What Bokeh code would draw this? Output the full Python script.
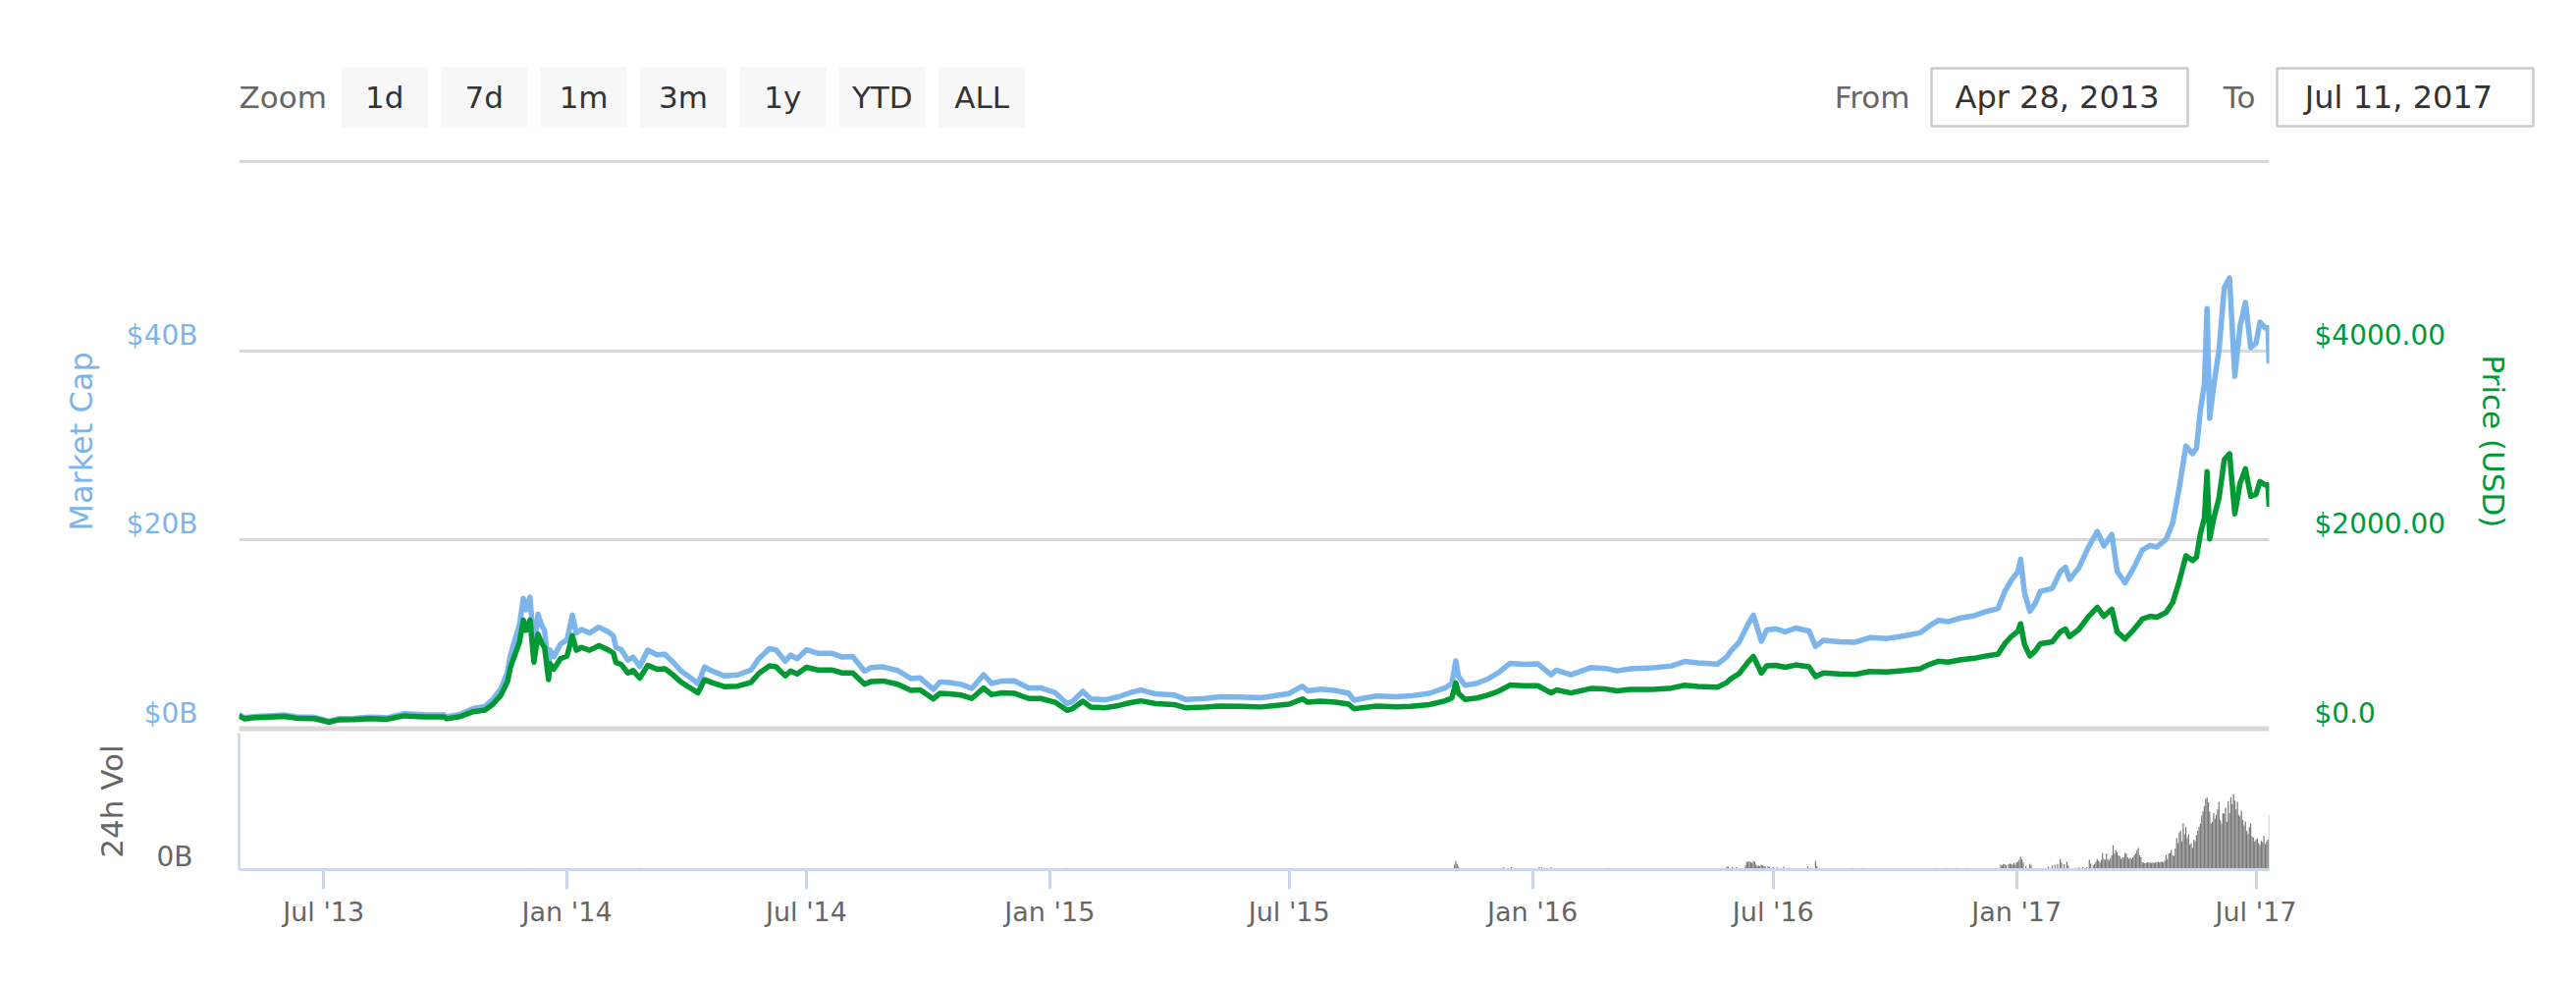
from datetime import datetime
from bokeh.plotting import figure
from bokeh.models import Range1d, LinearAxis, FixedTicker, Span, DatetimeTickFormatter
from bokeh.layouts import column
from bokeh.embed import file_html
from bokeh.resources import INLINE
from bokeh.core.properties import value

FONT = "DejaVu Sans"

# ---------------- data ----------------
dates = [
    "2013-04-28", "2013-05-02", "2013-05-10", "2013-05-20", "2013-06-01", "2013-06-12", "2013-06-24",
    "2013-07-05", "2013-07-12", "2013-07-24", "2013-08-05", "2013-08-18", "2013-08-31", "2013-09-15",
    "2013-09-30", "2013-10-02", "2013-10-12", "2013-10-22", "2013-10-31", "2013-11-06", "2013-11-12",
    "2013-11-17", "2013-11-19", "2013-11-22", "2013-11-26", "2013-11-29", "2013-12-01", "2013-12-04",
    "2013-12-07", "2013-12-10", "2013-12-13", "2013-12-15", "2013-12-18", "2013-12-19", "2013-12-22",
    "2013-12-27", "2014-01-01", "2014-01-05", "2014-01-08", "2014-01-12", "2014-01-18", "2014-01-25",
    "2014-02-01", "2014-02-05", "2014-02-07", "2014-02-11", "2014-02-16", "2014-02-20", "2014-02-25",
    "2014-03-03", "2014-03-10", "2014-03-16", "2014-03-22", "2014-03-28", "2014-04-02", "2014-04-10",
    "2014-04-15", "2014-04-20", "2014-04-30", "2014-05-10", "2014-05-20", "2014-05-26", "2014-06-03",
    "2014-06-08", "2014-06-15", "2014-06-19", "2014-06-24", "2014-07-01", "2014-07-10", "2014-07-20",
    "2014-07-28", "2014-08-05", "2014-08-14", "2014-08-19", "2014-08-28", "2014-09-08", "2014-09-18",
    "2014-09-25", "2014-10-05", "2014-10-10", "2014-10-17", "2014-10-26", "2014-11-03", "2014-11-12",
    "2014-11-18", "2014-11-26", "2014-12-05", "2014-12-16", "2014-12-25", "2015-01-05", "2015-01-14",
    "2015-01-18", "2015-01-26", "2015-02-01", "2015-02-12", "2015-02-22", "2015-03-03", "2015-03-11",
    "2015-03-22", "2015-04-05", "2015-04-14", "2015-04-28", "2015-05-10", "2015-05-25", "2015-06-10",
    "2015-06-20", "2015-07-01", "2015-07-11", "2015-07-15", "2015-07-25", "2015-08-05", "2015-08-15",
    "2015-08-19", "2015-08-25", "2015-09-05", "2015-09-20", "2015-10-01", "2015-10-15", "2015-10-27",
    "2015-11-01", "2015-11-04", "2015-11-06", "2015-11-11", "2015-11-20", "2015-11-28", "2015-12-06",
    "2015-12-15", "2015-12-25", "2016-01-05", "2016-01-15", "2016-01-19", "2016-01-30", "2016-02-14",
    "2016-02-25", "2016-03-05", "2016-03-15", "2016-04-01", "2016-04-15", "2016-04-25", "2016-05-05",
    "2016-05-20", "2016-05-27", "2016-05-30", "2016-06-05", "2016-06-12", "2016-06-16", "2016-06-22",
    "2016-06-26", "2016-07-03", "2016-07-10", "2016-07-18", "2016-07-28", "2016-08-02", "2016-08-08",
    "2016-08-20", "2016-09-01", "2016-09-12", "2016-09-25", "2016-10-08", "2016-10-20", "2016-10-27",
    "2016-11-03", "2016-11-10", "2016-11-20", "2016-11-30", "2016-12-09", "2016-12-18", "2016-12-23",
    "2016-12-28", "2017-01-02", "2017-01-04", "2017-01-07", "2017-01-11", "2017-01-15", "2017-01-19",
    "2017-01-28", "2017-02-03", "2017-02-07", "2017-02-10", "2017-02-17", "2017-02-24", "2017-03-03",
    "2017-03-08", "2017-03-14", "2017-03-18", "2017-03-24", "2017-03-31", "2017-04-06", "2017-04-12",
    "2017-04-17", "2017-04-24", "2017-04-29", "2017-05-04", "2017-05-09", "2017-05-14", "2017-05-17",
    "2017-05-20", "2017-05-23", "2017-05-25", "2017-05-27", "2017-05-30", "2017-06-03", "2017-06-07",
    "2017-06-11", "2017-06-15", "2017-06-19", "2017-06-23", "2017-06-27", "2017-07-01", "2017-07-04",
    "2017-07-08", "2017-07-10", "2017-07-11",
]

price_usd = [
    135, 105, 117, 122, 129, 108, 107,
    70, 93, 95, 106, 100, 136, 125,
    124, 105, 127, 180, 198, 260, 355,
    500, 640, 760, 915, 1150, 1040, 1150,
    705, 1000, 900, 860, 520, 690, 630,
    740, 770, 985, 830, 860, 830, 880,
    835, 800, 700, 680, 590, 615, 535,
    670, 630, 635, 570, 495, 450, 380,
    520, 490, 445, 450, 490, 585, 665,
    655, 560, 610, 580, 650, 620, 622,
    590, 590, 470, 500, 505, 470, 405,
    410, 315, 375, 370, 355, 320, 430,
    360, 380, 375, 320, 320, 280, 195,
    210, 290, 228, 222, 245, 275, 295,
    265, 255, 220, 228, 240, 237, 230,
    245, 260, 315, 280, 292, 280, 260,
    210, 222, 238, 232, 237, 255, 295,
    325, 485, 375, 310, 325, 355, 395,
    462, 455, 455, 378, 410, 378, 425,
    420, 400, 415, 417, 430, 460, 448,
    440, 490, 530, 580, 705, 765, 590,
    665, 670, 650, 675, 655, 550, 590,
    580, 575, 605, 600, 615, 635, 680,
    715, 705, 730, 745, 770, 790, 900,
    975, 1030, 1110, 890, 770, 820, 900,
    920, 1025, 1055, 975, 1050, 1180, 1285,
    1190, 1265, 1025, 950, 1055, 1160, 1190,
    1180, 1230, 1335, 1560, 1830, 1780, 1815,
    2065, 2230, 2720, 2010, 2220, 2440, 2845,
    2910, 2275, 2600, 2750, 2460, 2480, 2615,
    2580, 2580, 2350,
]

market_cap_b = [
    1.50, 1.17, 1.30, 1.36, 1.46, 1.22, 1.21,
    0.80, 1.06, 1.09, 1.23, 1.16, 1.58, 1.47,
    1.46, 1.24, 1.50, 2.13, 2.35, 3.12, 4.26,
    6.00, 7.68, 9.12, 10.98, 13.80, 12.58, 13.92,
    8.53, 12.10, 10.89, 10.41, 6.29, 8.35, 7.62,
    8.95, 9.39, 12.02, 10.13, 10.49, 10.13, 10.74,
    10.27, 9.84, 8.61, 8.36, 7.26, 7.56, 6.58,
    8.31, 7.81, 7.87, 7.07, 6.14, 5.65, 4.77,
    6.53, 6.15, 5.58, 5.69, 6.20, 7.40, 8.48,
    8.35, 7.14, 7.78, 7.40, 8.35, 7.97, 7.99,
    7.58, 7.64, 6.09, 6.48, 6.54, 6.16, 5.31,
    5.37, 4.16, 4.95, 4.88, 4.69, 4.26, 5.72,
    4.79, 5.05, 5.06, 4.32, 4.32, 3.82, 2.66,
    2.87, 3.96, 3.15, 3.06, 3.38, 3.82, 4.10,
    3.68, 3.57, 3.08, 3.19, 3.38, 3.34, 3.27,
    3.48, 3.72, 4.50, 4.00, 4.18, 4.03, 3.74,
    3.02, 3.20, 3.46, 3.38, 3.47, 3.74, 4.32,
    4.81, 7.18, 5.55, 4.59, 4.81, 5.25, 5.91,
    6.91, 6.80, 6.87, 5.71, 6.19, 5.71, 6.46,
    6.38, 6.12, 6.35, 6.44, 6.64, 7.11, 6.97,
    6.84, 7.62, 8.24, 9.11, 11.07, 12.01, 9.26,
    10.44, 10.57, 10.26, 10.65, 10.34, 8.72, 9.35,
    9.19, 9.15, 9.63, 9.55, 9.83, 10.15, 10.87,
    11.48, 11.32, 11.72, 11.96, 12.40, 12.72, 14.49,
    15.70, 16.63, 17.93, 14.37, 12.44, 13.24, 14.54,
    14.86, 16.61, 17.09, 15.80, 17.01, 19.12, 20.88,
    19.34, 20.56, 16.66, 15.44, 17.14, 18.91, 19.40,
    19.23, 20.05, 21.76, 25.51, 29.92, 29.10, 29.68,
    33.76, 36.46, 44.47, 32.86, 36.30, 40.02, 46.66,
    47.72, 37.31, 42.64, 45.10, 40.34, 40.80, 43.02,
    42.44, 42.44, 38.66,
]

vol_dates = [
    "2013-12-05", "2013-12-18", "2014-01-06", "2014-02-07", "2014-02-25", "2014-04-11", "2014-06-05",
    "2014-08-18", "2014-10-05", "2014-11-12", "2015-01-14", "2015-01-26", "2015-07-11", "2015-08-19",
    "2015-11-03", "2015-11-04", "2015-11-05", "2015-11-06", "2015-12-10", "2015-12-16", "2016-01-06",
    "2016-01-08", "2016-01-15", "2016-02-27", "2016-05-27", "2016-05-28", "2016-05-31", "2016-06-03",
    "2016-06-10", "2016-06-11", "2016-06-12", "2016-06-13", "2016-06-14", "2016-06-15", "2016-06-16",
    "2016-06-17", "2016-06-18", "2016-06-19", "2016-06-20", "2016-06-21", "2016-06-22", "2016-06-23",
    "2016-06-24", "2016-06-25", "2016-06-27", "2016-06-28", "2016-07-01", "2016-07-04", "2016-07-09",
    "2016-07-13", "2016-07-27", "2016-08-02", "2016-08-03", "2016-08-30", "2016-09-07", "2016-11-01",
    "2016-11-09", "2016-11-16", "2016-11-24",
    "2016-12-20", "2016-12-21", "2016-12-22", "2016-12-23", "2016-12-24", "2016-12-26", "2016-12-27",
    "2016-12-28", "2016-12-29", "2016-12-30", "2016-12-31", "2017-01-01", "2017-01-02", "2017-01-03",
    "2017-01-04", "2017-01-05", "2017-01-06", "2017-01-08", "2017-01-11", "2017-01-12", "2017-01-25",
    "2017-01-28", "2017-01-30", "2017-02-01", "2017-02-03", "2017-02-04", "2017-02-06", "2017-02-08",
    "2017-02-09", "2017-02-14", "2017-02-17", "2017-02-20", "2017-02-23", "2017-02-25", "2017-02-26",
    "2017-02-28", "2017-03-01", "2017-03-02", "2017-03-03", "2017-03-04", "2017-03-05", "2017-03-06",
    "2017-03-07", "2017-03-08", "2017-03-09", "2017-03-10", "2017-03-11", "2017-03-12", "2017-03-13",
    "2017-03-14", "2017-03-15", "2017-03-16", "2017-03-17", "2017-03-18", "2017-03-19", "2017-03-20",
    "2017-03-21", "2017-03-22", "2017-03-23", "2017-03-24", "2017-03-25", "2017-03-26", "2017-03-27",
    "2017-03-28", "2017-03-29", "2017-03-30", "2017-03-31", "2017-04-01", "2017-04-02", "2017-04-03",
    "2017-04-04", "2017-04-05", "2017-04-06", "2017-04-07", "2017-04-08", "2017-04-09", "2017-04-10",
    "2017-04-11", "2017-04-12", "2017-04-13", "2017-04-14", "2017-04-15", "2017-04-16", "2017-04-17",
    "2017-04-18", "2017-04-19", "2017-04-20", "2017-04-21", "2017-04-22", "2017-04-23", "2017-04-24",
    "2017-04-25", "2017-04-26", "2017-04-27", "2017-04-28", "2017-04-29", "2017-04-30", "2017-05-01",
    "2017-05-02", "2017-05-03", "2017-05-04", "2017-05-05", "2017-05-06", "2017-05-07", "2017-05-08",
    "2017-05-09", "2017-05-10", "2017-05-11", "2017-05-12", "2017-05-13", "2017-05-14", "2017-05-15",
    "2017-05-16", "2017-05-17", "2017-05-18", "2017-05-19", "2017-05-20", "2017-05-21", "2017-05-22",
    "2017-05-23", "2017-05-24", "2017-05-25", "2017-05-26", "2017-05-27", "2017-05-28", "2017-05-29",
    "2017-05-30", "2017-05-31", "2017-06-01", "2017-06-02", "2017-06-03", "2017-06-04", "2017-06-05",
    "2017-06-06", "2017-06-07", "2017-06-08", "2017-06-09", "2017-06-10", "2017-06-11", "2017-06-12",
    "2017-06-13", "2017-06-14", "2017-06-15", "2017-06-16", "2017-06-17", "2017-06-18", "2017-06-19",
    "2017-06-20", "2017-06-21", "2017-06-22", "2017-06-23", "2017-06-24", "2017-06-25", "2017-06-26",
    "2017-06-27", "2017-06-28", "2017-06-29", "2017-06-30", "2017-07-01", "2017-07-02", "2017-07-03",
    "2017-07-04", "2017-07-05", "2017-07-06", "2017-07-07", "2017-07-08", "2017-07-09", "2017-07-10",
    "2017-07-11",
]

volume_b = [
    0.05, 0.04, 0.04, 0.04, 0.05, 0.03, 0.03,
    0.03, 0.03, 0.03, 0.05, 0.03, 0.03, 0.03,
    0.14, 0.24, 0.16, 0.08, 0.06, 0.07, 0.07,
    0.07, 0.06, 0.05, 0.08, 0.08, 0.07, 0.07,
    0.12, 0.22, 0.22, 0.23, 0.21, 0.19, 0.24,
    0.22, 0.14, 0.10, 0.12, 0.10, 0.14, 0.12,
    0.10, 0.08, 0.09, 0.08, 0.07, 0.06, 0.08,
    0.05, 0.09, 0.24, 0.10, 0.05, 0.05, 0.05,
    0.05, 0.05, 0.05,
    0.14, 0.12, 0.16, 0.15, 0.12, 0.15, 0.17,
    0.16, 0.14, 0.18, 0.14, 0.20, 0.22, 0.28,
    0.36, 0.30, 0.20, 0.10, 0.16, 0.12, 0.08,
    0.12, 0.14, 0.16, 0.30, 0.20, 0.15, 0.22,
    0.12, 0.05, 0.06, 0.06, 0.07, 0.28, 0.17,
    0.12, 0.16, 0.22, 0.30, 0.25, 0.20, 0.28,
    0.47, 0.30, 0.28, 0.45, 0.30, 0.25, 0.32,
    0.40, 0.69, 0.45, 0.55, 0.50, 0.40, 0.38,
    0.30, 0.35, 0.33, 0.47, 0.45, 0.35, 0.30,
    0.33, 0.30, 0.35, 0.40, 0.45, 0.55, 0.61,
    0.40, 0.35, 0.20, 0.20, 0.18, 0.19, 0.20,
    0.20, 0.20, 0.19, 0.20, 0.19, 0.20, 0.20,
    0.22, 0.20, 0.22, 0.22, 0.20, 0.25, 0.42,
    0.30, 0.45, 0.47, 0.55, 0.40, 0.38, 0.60,
    0.89, 0.75, 1.05, 1.10, 0.80, 1.31, 1.00,
    1.20, 0.89, 1.00, 0.70, 0.75, 0.62, 0.85,
    0.80, 0.97, 1.10, 1.20, 1.30, 1.53, 1.65,
    1.80, 2.00, 2.05, 1.90, 1.64, 1.30, 1.35,
    1.60, 1.44, 1.55, 1.70, 1.92, 1.40, 1.30,
    1.60, 1.58, 1.75, 1.35, 1.94, 1.60, 2.05,
    1.85, 2.14, 1.95, 1.70, 1.92, 1.55, 1.50,
    1.67, 1.40, 1.25, 1.36, 1.10, 1.00, 1.20,
    1.30, 0.94, 0.90, 0.80, 0.85, 0.89, 0.75,
    0.70, 0.81, 0.78, 0.95, 0.72, 0.80, 0.85,
    1.55,
]

x_tick_dates = ["2013-07-01", "2014-01-01", "2014-07-01", "2015-01-01", "2015-07-01",
                "2016-01-01", "2016-07-01", "2017-01-01", "2017-07-01"]
mcap_ticks = [0, 20, 40]
mcap_tick_labels = ["$0B", "$20B", "$40B"]
price_ticks = [0, 2000, 4000]
price_tick_labels = ["$0.0", "$2000.00", "$4000.00"]
zoom_buttons = ["1d", "7d", "1m", "3m", "1y", "YTD", "ALL"]
date_from, date_to = "Apr 28, 2013", "Jul 11, 2017"

# ---------------- helpers ----------------
def d(s):
    return datetime.strptime(s, "%Y-%m-%d")

EPOCH = datetime(1970, 1, 1)
def ms(s):
    return (d(s) - EPOCH).total_seconds() * 1000.0

W = 2600
FL, FR = 243, 2311          # frame left / right (page px)
ML, MR = FL, W - FR
BLUE, GREEN, GREY = "#7cb5ec", "#009933", "#666666"

x_dates = [d(s) for s in dates]
vx = [d(s) for s in vol_dates]
x_range = Range1d(start=d(dates[0]), end=d(dates[-1]))

# ---------------- header (page-pixel coordinates) ----------------
HH = 150
hdr = figure(width=W, height=HH, x_range=Range1d(FL, FR), y_range=Range1d(HH, 0),
             toolbar_location=None, output_backend="svg",
             min_border_left=ML, min_border_right=MR, min_border_top=0, min_border_bottom=0,
             x_axis_location=None, y_axis_location=None, outline_line_color=None)
hdr.grid.visible = False
cy = 98.5
bx = [391.3 + i * 101.4 for i in range(len(zoom_buttons))]
tkw = dict(text_baseline="middle", text_font=value(FONT), level="overlay")
hdr.rect(x=bx, y=[cy] * len(bx), width=88, height=61, fill_color="#f7f7f7", line_color=None, level="overlay")
hdr.text(x=bx, y=[cy] * len(bx), text=zoom_buttons, text_align="center",
         text_font_size="31px", text_color="#333333", **tkw)
hdr.text(x=[243], y=[cy], text=["Zoom"], text_align="left", text_font_size="31px", text_color=GREY, **tkw)
hdr.text(x=[1945, 2297], y=[cy, cy], text=["From", "To"], text_align="right",
         text_font_size="31px", text_color=GREY, **tkw)
hdr.rect(x=[2097.5, 2449.5], y=[cy, cy], width=261, height=59, fill_color="white",
         line_color="#cccccc", line_width=2.5, level="overlay")
hdr.text(x=[2095, 2443], y=[cy, cy], text=[date_from, date_to], text_align="center",
         text_font_size="32px", text_color="#333333", **tkw)

# ---------------- main (market cap + price) ----------------
PXB = 9.62          # pixels per $1B
top_px, zero_px, bot_px = 152, 741.5, 746
y_end = (zero_px - top_px) / PXB
y_start = -(bot_px - zero_px) / PXB
lbl_shift = 16 / PXB

main = figure(width=W, height=bot_px - HH, x_range=x_range, y_range=Range1d(y_start, y_end),
              x_axis_type="datetime", x_axis_location=None, y_axis_location=None,
              toolbar_location=None, output_backend="svg",
              min_border_left=ML, min_border_right=MR, min_border_top=top_px - HH, min_border_bottom=0,
              outline_line_color=None)
main.xgrid.visible = False
main.ygrid.ticker = FixedTicker(ticks=[20, 40, 60])
main.ygrid.grid_line_color = "#d8d8d8"
main.ygrid.grid_line_width = 3
main.extra_y_ranges = {
    "price": Range1d(y_start * 100, y_end * 100),
    "mcap_lbl": Range1d(y_start - lbl_shift, y_end - lbl_shift),
    "price_lbl": Range1d((y_start - lbl_shift) * 100, (y_end - lbl_shift) * 100),
}
main.add_layout(Span(location=0, dimension="width", line_color="#d8d8d8", line_width=5))

main.line(x_dates, market_cap_b, line_color=BLUE, line_width=5.5, line_join="round")
main.line(x_dates, price_usd, y_range_name="price", line_color=GREEN, line_width=5.5, line_join="round")

def style_axis(ax, color, standoff, title_standoff, title_size="31px"):
    ax.axis_line_color = None
    ax.major_tick_line_color = None
    ax.minor_tick_line_color = None
    ax.major_tick_in = 0
    ax.major_tick_out = 0
    ax.minor_tick_in = 0
    ax.minor_tick_out = 0
    ax.major_label_text_color = color
    ax.major_label_text_font = FONT
    ax.major_label_text_font_size = "28px"
    ax.major_label_standoff = standoff
    ax.axis_label_text_color = color
    ax.axis_label_text_font = FONT
    ax.axis_label_text_font_size = title_size
    ax.axis_label_text_font_style = "normal"
    ax.axis_label_standoff = title_standoff

ax_l = LinearAxis(y_range_name="mcap_lbl", ticker=FixedTicker(ticks=mcap_ticks),
                  major_label_overrides=dict(zip(mcap_ticks, mcap_tick_labels)), axis_label="Market Cap")
style_axis(ax_l, BLUE, 42, 24, "32px")
main.add_layout(ax_l, "left")

ax_r = LinearAxis(y_range_name="price_lbl", ticker=FixedTicker(ticks=price_ticks),
                  major_label_overrides=dict(zip(price_ticks, price_tick_labels)), axis_label="Price (USD)")
style_axis(ax_r, GREEN, 46, 28)
main.add_layout(ax_r, "right")

# ---------------- volume ----------------
VPX = 36.0           # pixels per $1B volume
v_top, v_bot = 746, 885
vh = v_bot - v_top
vol = figure(width=W, height=vh + 75, x_range=x_range, y_range=Range1d(0, vh / VPX),
             x_axis_type="datetime", y_axis_location=None, toolbar_location=None, output_backend="svg",
             min_border_left=ML, min_border_right=MR, min_border_top=0, min_border_bottom=75,
             outline_line_color=None)
vol.grid.visible = False
vol.extra_y_ranges = {"vlbl": Range1d(-13 / VPX, vh / VPX - 13 / VPX)}
vol.vbar(x=vx, top=volume_b, width=0.9 * 86400000, fill_color="#777777", line_color=None)

ax_v = LinearAxis(y_range_name="vlbl", ticker=FixedTicker(ticks=[0]), major_label_overrides={0: "0B"},
                  axis_label="24h Vol")
style_axis(ax_v, GREY, 47, 24)
ax_v.axis_line_color = "#ccd6eb"
ax_v.axis_line_width = 2.5
vol.add_layout(ax_v, "left")

xa = vol.xaxis[0]
xa.ticker = FixedTicker(ticks=[ms(s) for s in x_tick_dates])
fmt = "%b '%y"
xa.formatter = DatetimeTickFormatter(milliseconds=fmt, seconds=fmt, minsec=fmt, minutes=fmt, hourmin=fmt,
                                     hours=fmt, days=fmt, months=fmt, years=fmt)
xa.axis_line_color = "#ccd6eb"
xa.axis_line_width = 3
xa.major_tick_line_color = "#ccd6eb"
xa.major_tick_line_width = 3
xa.major_tick_in = 0
xa.major_tick_out = 20
xa.minor_tick_line_color = None
xa.major_label_standoff = 7
xa.major_label_text_font = FONT
xa.major_label_text_font_size = "27px"
xa.major_label_text_color = GREY

layout = column(hdr, main, vol, spacing=0)
open("out.html", "w").write(file_html(layout, INLINE))
